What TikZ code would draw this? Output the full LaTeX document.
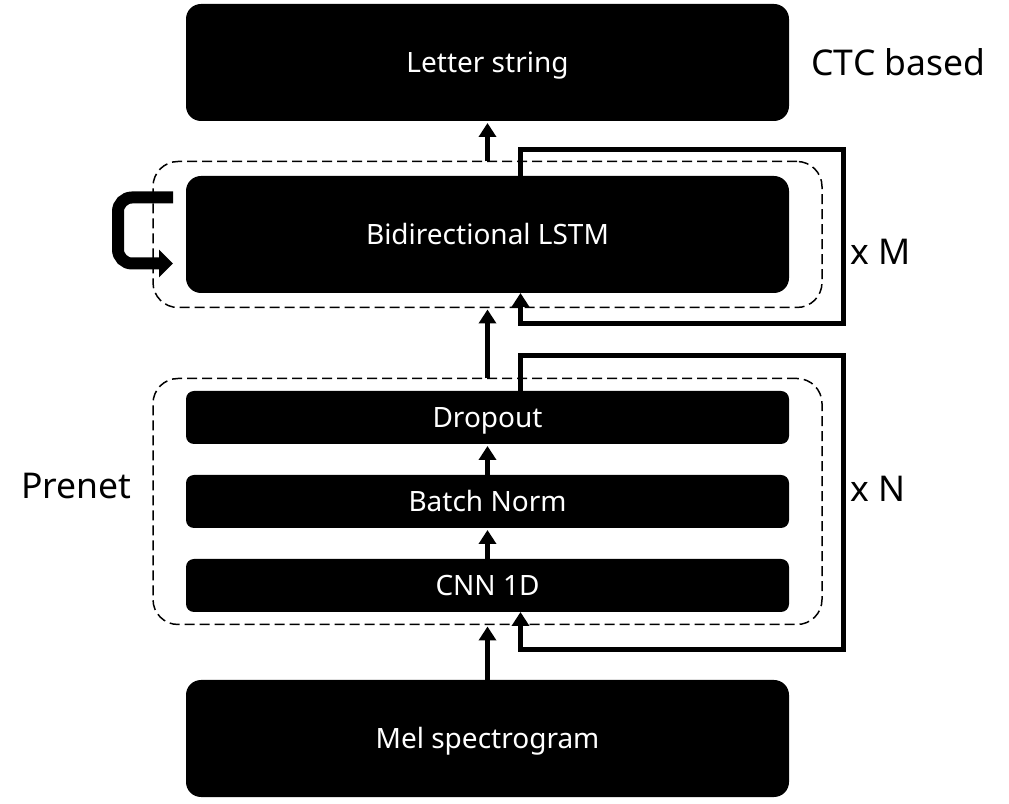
\documentclass[tikz,border=0pt]{standalone}
\usepackage{fontspec}
\setmainfont{Noto Sans}
\usetikzlibrary{arrows.meta,positioning,fit}

\begin{document}
\begin{tikzpicture}[
	x = 1pt, y = 1pt,
	> = {Triangle[width=17pt, length=14pt]}, % arrow head style
	shorten > = 2pt, % don't touch arrow head to node
	line width = 5pt, % line style
	block/.style={rectangle, fill=black, text=white, rounded corners=15pt, minimum width=603pt, minimum height=117pt, inner sep=0pt, outer sep=0pt, text height=20pt, text depth=0pt, font=\fontsize{28}{34}\selectfont},
	layer/.style={block, rounded corners=8pt, minimum height=53pt},
	group/.style={rectangle, draw=black, line width=1.5pt, dash pattern=on 10pt off 5pt, rounded corners=25pt, inner xsep=33pt, outer sep=0pt},
	lbl/.style={inner sep=0pt, font=\fontsize{35.5}{43}\selectfont},
	repeat/.style={->, shorten > = 0pt},
	selfloop/.style={-{Triangle[width=27pt, length=14pt]}, line width=12pt, rounded corners=14pt, shorten > = 0pt},
	]
	\useasboundingbox (0,0) rectangle (1009,803);

	% Blocks
	% Nodes and their relative positions
	\node[block] (letter) at (487.5,740.5) {Letter string};
	\node[block] (lstm) [below = 55pt of letter] {Bidirectional LSTM};
	\node[layer] (dropout) [below = 98pt of lstm] {Dropout};
	\node[layer] (batch) [below = 31pt of dropout] {Batch Norm};
	\node[layer] (cnn) [below = 31pt of batch] {CNN 1D};
	\node[block] (mel) [below = 68pt of cnn] {Mel spectrogram};

	% Dashed groups
	\node[group, inner ysep=14.5pt, fit=(lstm)] (lstmgroup) {};
	\node[group, inner ysep=12.5pt, fit=(dropout)(cnn)] (prenetgroup) {};

	% Labels
	\node[lbl] (ctc) [right = 20pt of letter] {CTC based};
	\node[lbl] (prenet) [left = 19pt of prenetgroup, yshift=15pt] {Prenet};
	\node[lbl] (xm) [right = 59pt of lstm, yshift=-17pt] {x M};
	\node[lbl] (xn) [right = 59pt of batch, yshift=13pt] {x N};

	% Paths connecting nodes
	\path[->] (mel) edge (prenetgroup);
	\path[->] (cnn) edge (batch);
	\path[->] (batch) edge (dropout);
	\path[->] (prenetgroup) edge (lstmgroup);
	\path[->] (lstmgroup) edge (letter);

	% Repeat loops
	\draw[repeat] ([xshift=33pt]lstm.north) -- ++(0,26) -| ([shift={(356pt,-31pt)}]lstm.south) -| ([xshift=33pt]lstm.south);
	\draw[repeat] ([xshift=33pt]dropout.north) -- ++(0,35) -| ([shift={(356pt,-38pt)}]cnn.south) -| ([xshift=33pt]cnn.south);
	\draw[selfloop] ([shift={(-13pt,37pt)}]lstm.west) -- ++(-55,0) |- ([shift={(-13pt,-29pt)}]lstm.west);
\end{tikzpicture}
\end{document}
